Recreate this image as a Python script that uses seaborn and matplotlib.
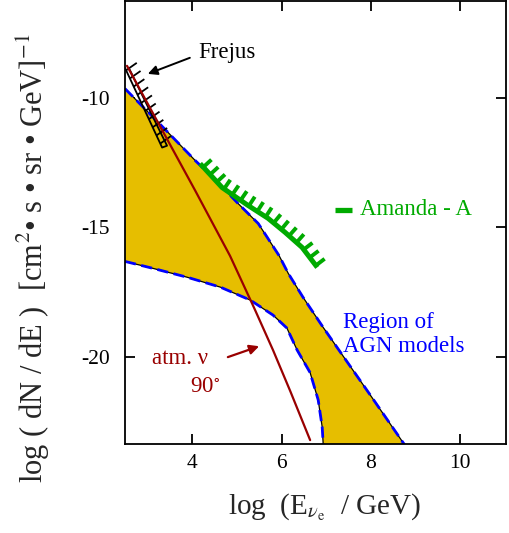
import numpy as np
import matplotlib
matplotlib.use("Agg")
import matplotlib.pyplot as plt
from matplotlib.collections import LineCollection
import seaborn as sns

# ---- data (log10 E [GeV], log10 dN/dE) ----
agn_upper_x = [2.5, 3.3, 4.07, 4.58, 5.03, 5.48, 5.68, 5.95, 6.15, 6.48, 6.93, 7.24, 8.0, 8.72, 9.0]
agn_upper_y = [-9.65, -11.05, -12.42, -13.27, -14.08, -14.85, -15.38, -16.1, -16.77, -17.69, -18.85, -19.62, -21.5, -23.3, -24.0]

agn_lower_x = [2.5, 3.13, 3.89, 4.63, 5.3, 5.81, 6.12, 6.35, 6.64, 6.82, 6.91, 6.93, 6.94]
agn_lower_y = [-16.31, -16.58, -16.92, -17.3, -17.8, -18.38, -18.88, -19.73, -20.6, -21.65, -22.7, -23.3, -24.0]

atm_x = [2.545, 3.3, 4.07, 4.85, 5.4, 5.81, 6.2, 6.64]
atm_y = [-8.77, -11.15, -13.58, -16.1, -18.15, -19.73, -21.33, -23.2]

amanda_x = [4.18, 4.67, 5.25, 5.70, 6.08, 6.46, 6.80]
amanda_y = [-12.54, -13.46, -14.15, -14.65, -15.19, -15.77, -16.54]

frejus_x = [2.5, 3.33, 3.44, 2.6]
frejus_y = [-8.85, -11.92, -11.85, -8.9]

x_ticks = [4, 6, 8, 10]
y_ticks = [-10, -15, -20]

GOLD = "#E6BE00"
DARKRED = "#990000"
GREEN = "#00AA00"
BLUE = "#0000FF"

sns.set_style("ticks")
plt.rcParams["font.family"] = ["Liberation Serif", "DejaVu Serif"]
plt.rcParams["mathtext.fontset"] = "stix"
plt.rcParams["axes.unicode_minus"] = False

fig = plt.figure(figsize=(5.1, 5.33), dpi=100)
ax = fig.add_axes([125 / 510, 89 / 533, 381 / 510, 443 / 533])
ax.set_xlim(2.5, 11.02)
ax.set_ylim(-23.35, -6.27)

# AGN model band
poly_x = list(agn_upper_x) + list(agn_lower_x[::-1])
poly_y = list(agn_upper_y) + list(agn_lower_y[::-1])
ax.fill(poly_x, poly_y, color=GOLD, lw=0, zorder=1)

for bx, by in [(agn_upper_x, agn_upper_y), (agn_lower_x, agn_lower_y)]:
    sns.lineplot(x=bx, y=by, ax=ax, sort=False, estimator=None,
                 color="black", lw=0.9, zorder=2)
    sns.lineplot(x=bx, y=by, ax=ax, sort=False, estimator=None,
                 color=BLUE, lw=2.0, linestyle=(0, (4, 2)), zorder=3)

# atmospheric neutrinos, 90 degrees
sns.lineplot(x=atm_x, y=atm_y, ax=ax, sort=False, estimator=None,
             color=DARKRED, lw=1.6, zorder=5)


def comb_teeth(xs, ys, n, length_px, angle=None, start=0.0, end=1.0):
    """Teeth along a polyline, built in display space and returned in data space."""
    pts = ax.transData.transform(np.column_stack([xs, ys]))
    seg = np.diff(pts, axis=0)
    seglen = np.hypot(seg[:, 0], seg[:, 1])
    cum = np.concatenate([[0], np.cumsum(seglen)])
    inv = ax.transData.inverted()
    out = []
    for s in np.linspace(start * cum[-1], end * cum[-1], n):
        i = min(np.searchsorted(cum, s, side="right") - 1, len(seg) - 1)
        t = (s - cum[i]) / seglen[i]
        p = pts[i] + t * seg[i]
        if angle is None:
            d = seg[i] / seglen[i]
            nrm = np.array([-d[1], d[0]])
        else:
            nrm = np.array([np.cos(angle), np.sin(angle)])
        q = p + length_px * nrm
        out.append([inv.transform(p), inv.transform(q)])
    return out


# Amanda-A limit with comb
sns.lineplot(x=amanda_x, y=amanda_y, ax=ax, sort=False, estimator=None,
             color=GREEN, lw=3.6, zorder=6, solid_capstyle="butt")
ax.add_collection(LineCollection(comb_teeth(amanda_x, amanda_y, 16, 11, start=0.03, end=0.985),
                                 colors=GREEN, linewidths=2.8, zorder=6))

# Frejus limit
sns.lineplot(x=frejus_x, y=frejus_y, ax=ax, sort=False, estimator=None,
             color="black", lw=1.3, zorder=4)
ax.add_collection(LineCollection(comb_teeth(frejus_x[:2], frejus_y[:2], 10, 13,
                                            angle=np.deg2rad(35), start=0.03, end=0.95),
                                 colors="black", linewidths=1.3, zorder=4))

# legend mark for Amanda
sns.lineplot(x=[7.2, 7.58], y=[-14.31, -14.31], ax=ax, color=GREEN, lw=3.8,
             zorder=6, solid_capstyle="butt")

fs = 16.5
ax.text(7.76, -14.31, "Amanda - A", color=GREEN, fontsize=fs, va="center", ha="left")
ax.text(7.38, -18.25, "Region of\nAGN models", color=BLUE, fontsize=fs, va="top",
        ha="left", linespacing=1.2)
ax.text(4.13, -8.27, "Frejus", color="black", fontsize=fs, va="center", ha="left")
ax.text(3.1, -20.04, "atm. ν", color=DARKRED, fontsize=fs, va="center", ha="left")
ax.text(4.29, -21.15, r"90$^{\circ}$", color=DARKRED, fontsize=fs, va="center", ha="center")

ax.annotate("", xy=(3.01, -9.08), xytext=(3.95, -8.46),
            arrowprops=dict(arrowstyle="-|>", color="black", lw=1.4,
                            mutation_scale=14, shrinkA=0, shrinkB=0), zorder=7)
ax.annotate("", xy=(5.5, -19.58), xytext=(4.8, -20.0),
            arrowprops=dict(arrowstyle="-|>", color=DARKRED, lw=1.6,
                            mutation_scale=14, shrinkA=0, shrinkB=0), zorder=7)

# axes, ticks, labels
ax.set_xticks(x_ticks)
ax.set_yticks(y_ticks)
ax.set_xticklabels([str(v) for v in x_ticks])
ax.set_yticklabels([str(v) for v in y_ticks])
ax.tick_params(direction="in", length=7, width=1.3, top=True, right=True,
               labelsize=15.5, colors="black", zorder=8)
ax.tick_params(axis="x", pad=7)
ax.tick_params(axis="y", pad=11)
for sp in ax.spines.values():
    sp.set_linewidth(1.3)
    sp.set_color("black")
    sp.set_zorder(9)

ax.set_xlabel(r"log  (E$_{\nu_{\mathrm{e}}}$  / GeV)", fontsize=21)
ax.xaxis.label.set_verticalalignment("center")
ax.xaxis.set_label_coords((325 - 125) / 381, (533 - 507 - 89) / 443)

ax.set_ylabel(r"log ( dN / dE )  [cm$^2$• s • sr • GeV]$^{-1}$", fontsize=22)
ax.yaxis.label.set_verticalalignment("center")
ax.yaxis.set_label_coords((33 - 125) / 381, (533 - 258 - 89) / 443)

fig.savefig("out.png", dpi=100)
